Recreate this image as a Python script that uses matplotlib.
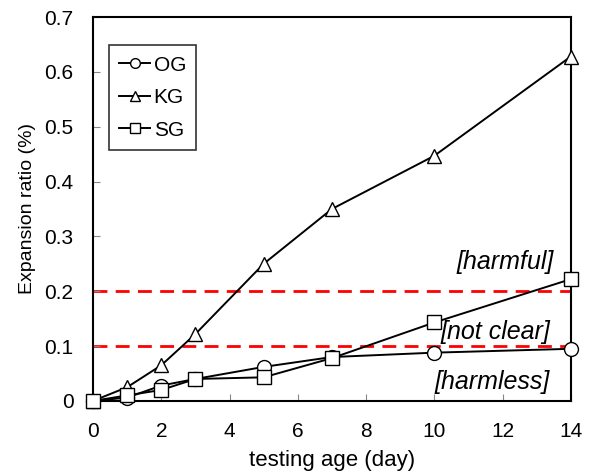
import matplotlib

matplotlib.use("Agg")
import matplotlib.pyplot as plt

DAYS = [0, 1, 2, 3, 5, 7, 10, 14]
OG = [0.0, 0.006, 0.028, 0.040, 0.062, 0.080, 0.088, 0.095]
KG = [0.0, 0.025, 0.065, 0.122, 0.250, 0.350, 0.447, 0.628]
SG = [0.0, 0.010, 0.020, 0.040, 0.043, 0.078, 0.143, 0.222]
LIMITS = [0.1, 0.2]

plt.rcParams["font.family"] = ["Liberation Sans", "DejaVu Sans"]
plt.rcParams["font.size"] = 15

fig = plt.figure(figsize=(5.89, 4.75), dpi=100)
ax = fig.add_axes([0.158, 0.156, 0.811, 0.808])

for y in LIMITS:
    ax.axhline(y, color="#ff0000", linestyle=(0, (5, 3)), linewidth=2, zorder=1)

style = dict(color="black", linewidth=1.4, markersize=10,
             markerfacecolor="white", markeredgecolor="black",
             markeredgewidth=1.0, zorder=3, clip_on=False)
ax.plot(DAYS, OG, marker="o", label="OG", **style)
ax.plot(DAYS, KG, marker="^", label="KG", **style)
ax.plot(DAYS, SG, marker="s", label="SG", **style)

ax.set_xlim(0, 14)
ax.set_ylim(0, 0.7)
ax.set_xticks(range(0, 15, 2))
ax.set_yticks([i / 10 for i in range(8)])
ax.set_yticklabels(["0"] + [f"{i / 10:.1f}" for i in range(1, 8)])
ax.tick_params(direction="in", length=5, width=0.8, colors="#888888",
               labelcolor="black", labelsize=15)
ax.tick_params(axis="y", pad=14)
ax.tick_params(axis="x", pad=15)
for s in ax.spines.values():
    s.set_linewidth(1.5)
ax.set_xlabel("testing age (day)", fontsize=16, labelpad=7)
ax.set_ylabel("Expansion ratio (%)", fontsize=14, labelpad=6)

txt = dict(style="italic", fontsize=18, ha="right", va="center")
ax.text(13.5, 0.253, "[harmful]", **txt)
ax.text(13.4, 0.126, "[not clear]", **txt)
ax.text(13.4, 0.035, "[harmless]", **txt)

leg = ax.legend(loc="upper left", bbox_to_anchor=(0.033, 0.927),
                borderaxespad=0, frameon=True, fancybox=False,
                edgecolor="black", handlelength=1.5, handletextpad=0.15,
                labelspacing=0.65, borderpad=0.5, markerscale=0.7,
                fontsize=15)
leg.get_frame().set_linewidth(1.2)

fig.savefig("out.png", dpi=100)
